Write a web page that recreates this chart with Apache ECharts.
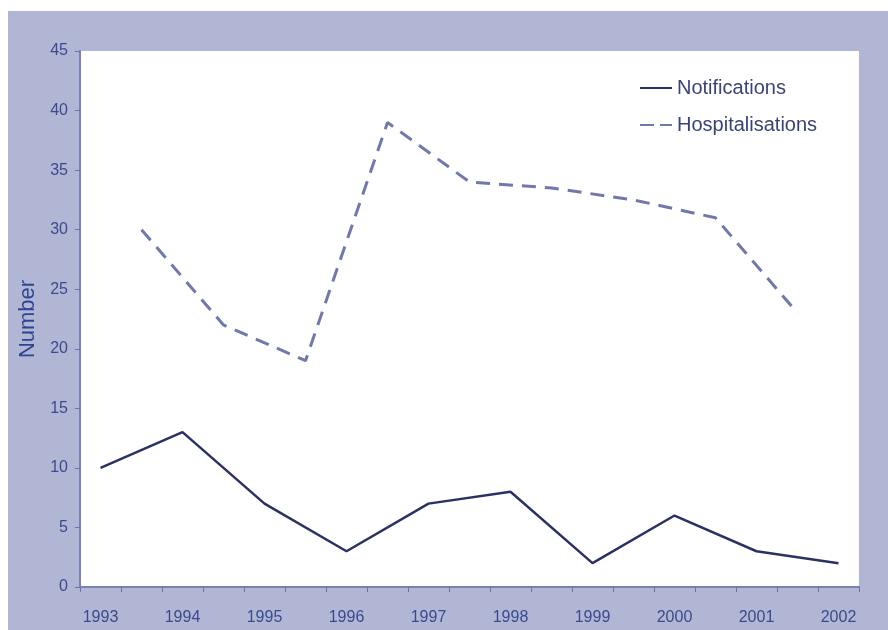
<!DOCTYPE html>
<html>
<head>
<meta charset="utf-8">
<style>
  html, body { margin: 0; padding: 0; background: #ffffff; }
  #chart { width: 888px; height: 630px; }
</style>
<script src="https://cdn.jsdelivr.net/npm/echarts@6/dist/echarts.min.js"></script>
</head>
<body>
<div id="chart"></div>
<script>
// half-year slots: years on even slots, hospitalisations on the odd ones
var categories = ['1993', '', '1994', '', '1995', '', '1996', '', '1997', '', '1998', '', '1999', '', '2000', '', '2001', '', '2002'];
var notifications = [10, null, 13, null, 7, null, 3, null, 7, null, 8, null, 2, null, 6, null, 3, null, 2];
var hospitalisations = [null, 30, null, 22, null, 19, null, 39, null, 34, null, 33.5, null, 32.5, null, 31, null, 23, null];
var yTicks = [0, 5, 10, 15, 20, 25, 30, 35, 40, 45];

var navy = '#2b3263';
var lilac = '#7078ac';

var chart = echarts.init(document.getElementById('chart'));
chart.setOption({
    backgroundColor: '#ffffff',
    textStyle: { fontFamily: 'Liberation Sans' },
    graphic: [{
        type: 'rect',
        z: -10,
        shape: { x: 8, y: 11, width: 880, height: 619 },
        style: { fill: '#b2b6d5' }
    }],
    grid: {
        left: 80,
        top: 51,
        right: 29,
        bottom: 43,
        show: true,
        backgroundColor: '#ffffff',
        borderWidth: 0
    },
    legend: {
        left: 635,
        top: 73,
        orient: 'vertical',
        itemWidth: 32,
        itemHeight: 2,
        itemGap: 17,
        textStyle: { color: '#3a4378', fontSize: 20, padding: [0, 0, 0, 0] },
        data: [
            { name: 'Notifications', icon: 'path://M0,0h32v2h-32z', itemStyle: { color: navy } },
            { name: 'Hospitalisations', icon: 'path://M0,0h14v2h-14z M20,0h12v2h-12z', itemStyle: { color: lilac } }
        ]
    },
    xAxis: {
        type: 'category',
        data: categories,
        boundaryGap: true,
        axisLine: { lineStyle: { color: '#7a80b2', width: 2 } },
        axisTick: { show: true, length: 5, lineStyle: { color: '#6b72a8' } },
        axisLabel: {
            interval: 0,
            color: '#3a4a8c',
            fontSize: 16,
            margin: 23
        },
        splitLine: { show: false }
    },
    yAxis: {
        type: 'value',
        min: 0,
        max: 45,
        interval: 5,
        name: 'Number',
        nameLocation: 'middle',
        nameGap: 41,
        nameTextStyle: { color: '#2e4592', fontSize: 22 },
        axisLine: { show: true, lineStyle: { color: '#7a80b2', width: 2 } },
        axisTick: { show: true, length: 5, lineStyle: { color: '#6b72a8' } },
        axisLabel: {
            color: '#3a4a8c',
            fontSize: 16,
            margin: 12,
            formatter: function (v) { return yTicks.indexOf(v) >= 0 ? String(v) : ''; }
        },
        splitLine: { show: false }
    },
    series: [
        {
            name: 'Notifications',
            type: 'line',
            data: notifications,
            connectNulls: true,
            symbol: 'none',
            lineStyle: { color: navy, width: 2.5 },
            itemStyle: { color: navy }
        },
        {
            name: 'Hospitalisations',
            type: 'line',
            data: hospitalisations,
            connectNulls: true,
            symbol: 'none',
            lineStyle: { color: lilac, width: 3, type: [14, 9] },
            itemStyle: { color: lilac }
        }
    ]
});
</script>
</body>
</html>
